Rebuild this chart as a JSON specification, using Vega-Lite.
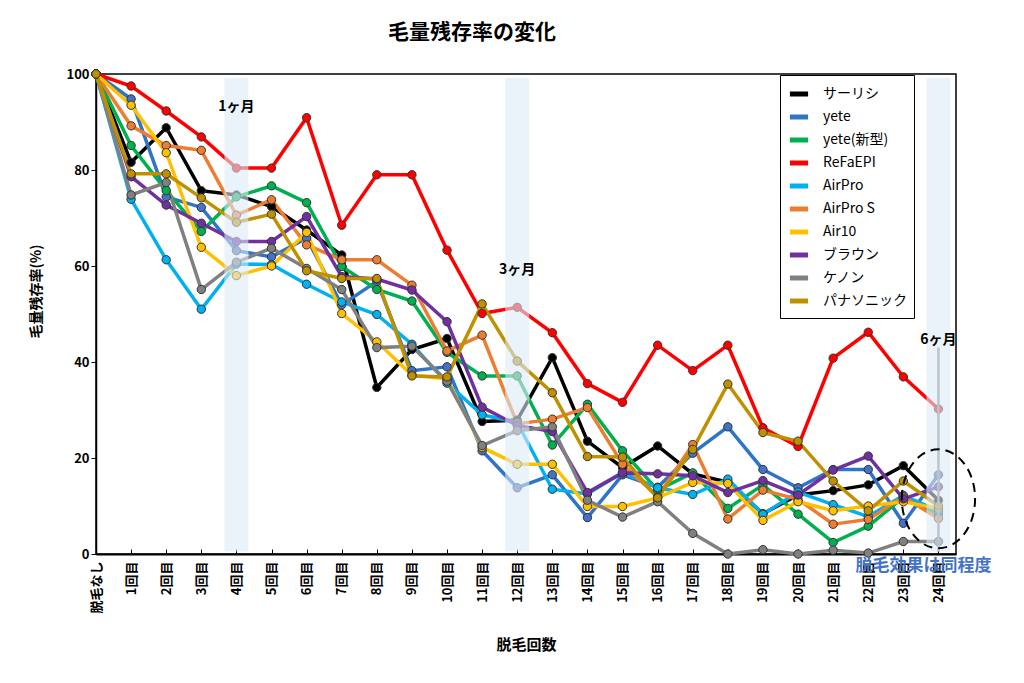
{
  "$schema": "https://vega.github.io/schema/vega-lite/v6.json",
  "width": 860,
  "height": 480,
  "autosize": "none",
  "padding": {"left": 96, "top": 74, "right": 68, "bottom": 129},
  "background": "white",
  "title": {
    "text": "毛量残存率の変化",
    "font": "Noto Sans CJK JP",
    "fontSize": 21,
    "fontWeight": "bold",
    "color": "#000",
    "dx": -54,
    "offset": 24
  },
  "datasets": {
    "main": [
      {"回": "脱毛なし", "サーリシ": 100, "yete": 100, "yete(新型)": 100, "ReFaEPI": 100, "AirPro": 100, "AirPro S": 100, "Air10": 100, "ブラウン": 100, "ケノン": 100, "パナソニック": 100},
      {"回": "1回目", "サーリシ": 81.6, "yete": 94.8, "yete(新型)": 85.1, "ReFaEPI": 97.5, "AirPro": 73.9, "AirPro S": 89.2, "Air10": 93.5, "ブラウン": 78.6, "ケノン": 74.8, "パナソニック": 79.2},
      {"回": "2回目", "サーリシ": 88.8, "yete": 74.4, "yete(新型)": 75.7, "ReFaEPI": 92.3, "AirPro": 61.3, "AirPro S": 85.1, "Air10": 83.6, "ブラウン": 72.7, "ケノン": 77.4, "パナソニック": 79.2},
      {"回": "3回目", "サーリシ": 75.7, "yete": 72.2, "yete(新型)": 67.2, "ReFaEPI": 86.9, "AirPro": 51.0, "AirPro S": 84.1, "Air10": 63.9, "ブラウン": 68.9, "ケノン": 55.1, "パナソニック": 74.2},
      {"回": "4回目", "サーリシ": 74.8, "yete": 63.2, "yete(新型)": 74.4, "ReFaEPI": 80.4, "AirPro": 60.4, "AirPro S": 70.6, "Air10": 58.0, "ブラウン": 65.1, "ケノン": 60.8, "パナソニック": 69.1},
      {"回": "5回目", "サーリシ": 72.4, "yete": 61.9, "yete(新型)": 76.7, "ReFaEPI": 80.4, "AirPro": 60.3, "AirPro S": 73.8, "Air10": 60.0, "ブラウン": 65.1, "ケノン": 63.7, "パナソニック": 70.8},
      {"回": "6回目", "サーリシ": 67.5, "yete": 65.8, "yete(新型)": 73.2, "ReFaEPI": 90.9, "AirPro": 56.2, "AirPro S": 64.4, "Air10": 67.0, "ブラウン": 70.3, "ケノン": 59.5, "パナソニック": 59.0},
      {"回": "7回目", "サーリシ": 62.3, "yete": 51.9, "yete(新型)": 59.9, "ReFaEPI": 68.5, "AirPro": 52.5, "AirPro S": 61.3, "Air10": 50.1, "ブラウン": 57.8, "ケノン": 55.1, "パナソニック": 57.4},
      {"回": "8回目", "サーリシ": 34.7, "yete": 56.8, "yete(新型)": 55.1, "ReFaEPI": 79.0, "AirPro": 49.9, "AirPro S": 61.3, "Air10": 44.2, "ブラウン": 57.3, "ケノン": 43.0, "パナソニック": 57.4},
      {"回": "9回目", "サーリシ": 42.6, "yete": 38.2, "yete(新型)": 52.7, "ReFaEPI": 79.0, "AirPro": 43.7, "AirPro S": 56.0, "Air10": 37.3, "ブラウン": 55.0, "ケノン": 43.3, "パナソニック": 37.1},
      {"回": "10回目", "サーリシ": 44.9, "yete": 39.0, "yete(新型)": 42.0, "ReFaEPI": 63.3, "AirPro": 35.6, "AirPro S": 42.3, "Air10": 36.5, "ブラウン": 48.4, "ケノン": 36.0, "パナソニック": 36.9},
      {"回": "11回目", "サーリシ": 27.6, "yete": 21.5, "yete(新型)": 37.1, "ReFaEPI": 50.1, "AirPro": 29.0, "AirPro S": 45.6, "Air10": 22.2, "ブラウン": 30.6, "ケノン": 22.6, "パナソニック": 52.1},
      {"回": "12回目", "サーリシ": 27.9, "yete": 13.8, "yete(新型)": 37.1, "ReFaEPI": 51.4, "AirPro": 27.4, "AirPro S": 27.1, "Air10": 18.7, "ブラウン": 26.8, "ケノン": 25.7, "パナソニック": 40.2},
      {"回": "13回目", "サーリシ": 40.9, "yete": 16.5, "yete(新型)": 22.7, "ReFaEPI": 46.1, "AirPro": 13.5, "AirPro S": 28.1, "Air10": 18.7, "ブラウン": 25.5, "ケノン": 26.5, "パナソニック": 33.6},
      {"回": "14回目", "サーリシ": 23.5, "yete": 7.6, "yete(新型)": 31.2, "ReFaEPI": 35.5, "AirPro": 12.5, "AirPro S": 30.5, "Air10": 9.9, "ブラウン": 12.8, "ケノン": 11.2, "パナソニック": 20.3},
      {"回": "15回目", "サーリシ": 18.0, "yete": 16.5, "yete(新型)": 21.5, "ReFaEPI": 31.6, "AirPro": 17.0, "AirPro S": 18.7, "Air10": 9.9, "ブラウン": 16.9, "ケノン": 7.7, "パナソニック": 20.2},
      {"回": "16回目", "サーリシ": 22.5, "yete": 13.9, "yete(新型)": 13.3, "ReFaEPI": 43.5, "AirPro": 13.8, "AirPro S": 11.9, "Air10": 11.7, "ブラウン": 16.7, "ケノン": 10.9, "パナソニック": 11.7},
      {"回": "17回目", "サーリシ": 16.7, "yete": 21.0, "yete(新型)": 16.9, "ReFaEPI": 38.2, "AirPro": 12.4, "AirPro S": 22.8, "Air10": 14.9, "ブラウン": 16.3, "ケノン": 4.3, "パナソニック": 21.8},
      {"回": "18回目", "サーリシ": 15.0, "yete": 26.5, "yete(新型)": 9.5, "ReFaEPI": 43.5, "AirPro": 15.6, "AirPro S": 7.3, "Air10": 14.7, "ブラウン": 12.8, "ケノン": 0.0, "パナソニック": 35.4},
      {"回": "19回目", "サーリシ": 8.4, "yete": 17.6, "yete(新型)": 14.4, "ReFaEPI": 26.3, "AirPro": 8.3, "AirPro S": 13.3, "Air10": 7.0, "ブラウン": 15.3, "ケノン": 0.9, "パナソニック": 25.3},
      {"回": "20回目", "サーリシ": 12.3, "yete": 13.8, "yete(新型)": 8.3, "ReFaEPI": 22.4, "AirPro": 12.9, "AirPro S": 11.4, "Air10": 10.9, "ブラウン": 12.3, "ケノン": 0.0, "パナソニック": 23.5},
      {"回": "21回目", "サーリシ": 13.2, "yete": 17.6, "yete(新型)": 2.4, "ReFaEPI": 40.8, "AirPro": 10.3, "AirPro S": 6.2, "Air10": 9.0, "ブラウン": 17.5, "ケノン": 0.8, "パナソニック": 15.2},
      {"回": "22回目", "サーリシ": 14.4, "yete": 17.6, "yete(新型)": 5.8, "ReFaEPI": 46.2, "AirPro": 7.8, "AirPro S": 7.2, "Air10": 10.0, "ブラウン": 20.4, "ケノン": 0.2, "パナソニック": 9.0},
      {"回": "23回目", "サーリシ": 18.4, "yete": 6.4, "yete(新型)": 11.8, "ReFaEPI": 36.9, "AirPro": 12.2, "AirPro S": 11.9, "Air10": 10.9, "ブラウン": 11.5, "ケノン": 2.6, "パナソニック": 15.2},
      {"回": "24回目", "サーリシ": 11.2, "yete": 16.5, "yete(新型)": 8.3, "ReFaEPI": 30.2, "AirPro": 9.0, "AirPro S": 7.4, "Air10": 9.5, "ブラウン": 14.0, "ケノン": 2.6, "パナソニック": 10.0}
    ],
    "bands": [
      {"回": "4回目", "値": 99.2, "値2": 0.5},
      {"回": "12回目", "値": 99.2, "値2": 0.5},
      {"回": "24回目", "値": 99.2, "値2": 0.5}
    ],
    "guide": [
      {"回": "24回目", "値": 43.0, "値2": 0.5}
    ],
    "months": [
      {"回": "4回目", "値": 93.1, "label": "1ヶ月"},
      {"回": "12回目", "値": 59.2, "label": "3ヶ月"},
      {"回": "24回目", "値": 44.6, "label": "6ヶ月"}
    ],
    "circle": [
      {"回": "24回目", "値": 11.5}
    ],
    "note": [
      {"回": "24回目", "値": -2.6, "label": "脱毛効果は同程度"}
    ]
  },
  "encoding": {
    "x": {
      "field": "回",
      "type": "ordinal",
      "title": "脱毛回数",
      "scale": {
        "type": "point",
        "padding": 0.25,
        "align": 0,
        "domain": ["脱毛なし", "1回目", "2回目", "3回目", "4回目", "5回目", "6回目", "7回目", "8回目", "9回目", "10回目", "11回目", "12回目", "13回目", "14回目", "15回目", "16回目", "17回目", "18回目", "19回目", "20回目", "21回目", "22回目", "23回目", "24回目"]
      },
      "axis": {
        "labelAngle": -90,
        "labelFontSize": 13,
        "labelPadding": 12,
        "tickSize": -5,
        "domainWidth": 2,
        "titleFontSize": 15,
        "titlePadding": 24
      }
    }
  },
  "layer": [
    {
      "data": {"name": "main"},
      "transform": [
        {"fold": ["サーリシ", "yete", "yete(新型)", "ReFaEPI", "AirPro", "AirPro S", "Air10", "ブラウン", "ケノン", "パナソニック"], "as": ["機種", "値"]}
      ],
      "mark": {"type": "line", "strokeWidth": 3.5},
      "encoding": {
        "y": {
          "field": "値",
          "type": "quantitative",
          "title": "毛量残存率(%)",
          "scale": {"domain": [0, 100], "nice": false},
          "axis": {"values": [0, 20, 40, 60, 80, 100], "labelFontSize": 13, "titleFontSize": 14, "titlePadding": 22, "titleY": 217, "domainWidth": 1.5}
        },
        "color": {
          "field": "機種",
          "type": "nominal",
          "scale": {
            "domain": ["サーリシ", "yete", "yete(新型)", "ReFaEPI", "AirPro", "AirPro S", "Air10", "ブラウン", "ケノン", "パナソニック"],
            "range": ["#000000", "#2E75C6", "#00B050", "#FF0000", "#00B0F0", "#ED7D31", "#FFC000", "#7030A0", "#808080", "#BF9000"]
          },
          "legend": {
            "title": null,
            "orient": "none",
            "legendX": 684,
            "legendY": 1,
            "fillColor": "white",
            "strokeColor": "#000",
            "padding": 7,
            "symbolType": "stroke",
            "symbolSize": 330,
            "symbolStrokeWidth": 5,
            "labelFontSize": 14,
            "labelFont": "Noto Sans CJK JP",
            "labelFontWeight": "normal",
            "rowPadding": 1,
            "labelOffset": 12,
            "labelLimit": 200
          }
        }
      }
    },
    {
      "data": {"name": "main"},
      "transform": [
        {"fold": ["サーリシ", "yete", "yete(新型)", "ReFaEPI", "AirPro", "AirPro S", "Air10", "ブラウン", "ケノン", "パナソニック"], "as": ["機種", "値"]}
      ],
      "mark": {"type": "point", "filled": true, "size": 70, "stroke": "#333", "strokeWidth": 1, "opacity": 1},
      "encoding": {
        "y": {"field": "値", "type": "quantitative", "title": "毛量残存率(%)"},
        "color": {
          "field": "機種",
          "type": "nominal",
          "scale": {
            "domain": ["サーリシ", "yete", "yete(新型)", "ReFaEPI", "AirPro", "AirPro S", "Air10", "ブラウン", "ケノン", "パナソニック"],
            "range": ["#000000", "#4472C4", "#00B050", "#FF0000", "#00B0F0", "#ED7D31", "#FFC000", "#7030A0", "#808080", "#BF9000"]
          },
          "legend": null
        }
      }
    },
    {
      "data": {"name": "guide"},
      "mark": {"type": "rule", "color": "#8C8C8C", "strokeWidth": 2.5},
      "encoding": {
        "y": {"field": "値", "type": "quantitative", "title": "毛量残存率(%)"},
        "y2": {"field": "値2"}
      }
    },
    {
      "data": {"name": "bands"},
      "mark": {"type": "bar", "width": 24, "color": "#DDEBF7", "opacity": 0.6},
      "encoding": {
        "y": {"field": "値", "type": "quantitative", "title": "毛量残存率(%)"},
        "y2": {"field": "値2"}
      }
    },
    {
      "data": {"name": "months"},
      "mark": {"type": "text", "font": "Noto Sans CJK JP", "fontSize": 14, "fontWeight": "bold", "color": "#000", "baseline": "middle", "align": "center"},
      "encoding": {
        "y": {"field": "値", "type": "quantitative", "title": "毛量残存率(%)"},
        "text": {"field": "label"}
      }
    },
    {
      "data": {"name": "circle"},
      "mark": {"type": "point", "shape": "M-0.74,0 A0.74,1 0 1,1 0.74,0 A0.74,1 0 1,1 -0.74,0 Z", "size": 9800, "filled": false, "stroke": "#000", "strokeWidth": 2, "strokeDash": [9, 6], "opacity": 1, "dx": 3},
      "encoding": {
        "y": {"field": "値", "type": "quantitative", "title": "毛量残存率(%)"}
      }
    },
    {
      "data": {"name": "note"},
      "mark": {"type": "text", "font": "Noto Sans CJK JP", "fontSize": 17, "fontWeight": "bold", "color": "#4472C4", "baseline": "middle", "align": "center", "dx": -15},
      "encoding": {
        "y": {"field": "値", "type": "quantitative", "title": "毛量残存率(%)"},
        "text": {"field": "label"}
      }
    }
  ],
  "resolve": {"scale": {"color": "independent"}},
  "config": {
    "font": "Noto Sans CJK JP",
    "view": {"stroke": "#000", "strokeWidth": 1.5},
    "axis": {
      "grid": false,
      "labelFont": "Noto Sans CJK JP",
      "labelFontWeight": "bold",
      "labelColor": "#000",
      "titleFont": "Noto Sans CJK JP",
      "titleFontWeight": "bold",
      "titleColor": "#000",
      "domainColor": "#000",
      "tickColor": "#000"
    }
  }
}
